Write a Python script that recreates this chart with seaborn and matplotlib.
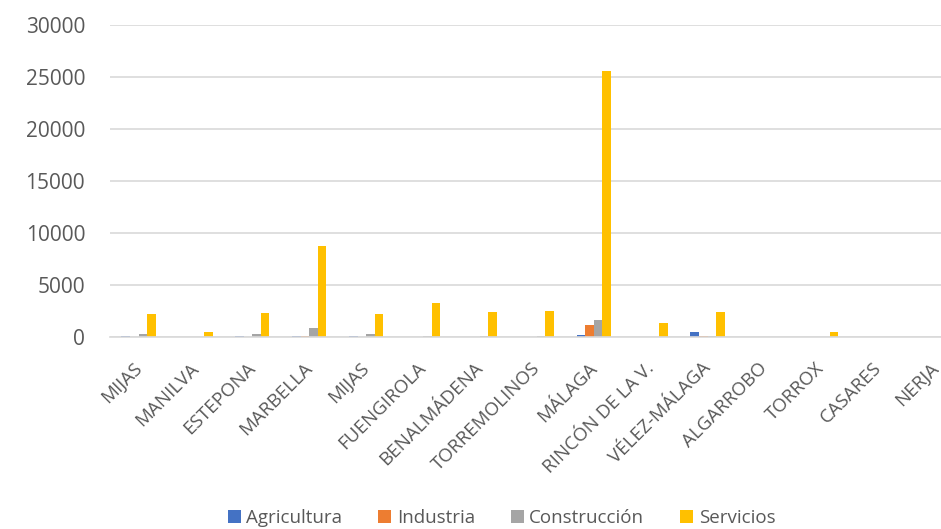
import pandas as pd
import matplotlib.pyplot as plt
import matplotlib.transforms as mtransforms
import seaborn as sns

# municipios (MIJAS appears twice in the original chart)
municipios = ["MIJAS", "MANILVA", "ESTEPONA", "MARBELLA", "MIJAS", "FUENGIROLA",
              "BENALMÁDENA", "TORREMOLINOS", "MÁLAGA", "RINCÓN DE LA V.",
              "VÉLEZ-MÁLAGA", "ALGARROBO", "TORROX", "CASARES", "NERJA"]
sectores = ["Agricultura", "Industria", "Construcción", "Servicios"]

agricultura = [50, 0, 50, 60, 50, 30, 30, 20, 150, 0, 450, 0, 0, 0, 0]
industria = [0, 0, 0, 100, 0, 0, 0, 0, 1150, 0, 100, 0, 0, 0, 0]
construccion = [250, 0, 250, 850, 250, 100, 120, 50, 1630, 0, 100, 0, 0, 0, 0]
servicios = [2180, 480, 2340, 8750, 2200, 3300, 2430, 2530, 25600, 1380, 2370, 0, 480, 0, 0]

colores = ["#4472C4", "#ED7D31", "#A5A5A5", "#FFC000"]

rows = []
for serie, vals in zip(sectores, [agricultura, industria, construccion, servicios]):
    for i, v in enumerate(vals):
        rows.append({"pos": i, "sector": serie, "valor": v})
df = pd.DataFrame(rows)

sns.set_style("white")
plt.rcParams['font.family'] = ['Open Sans', 'DejaVu Sans']

fig = plt.figure(figsize=(9.41, 5.29), dpi=100)
ax = fig.add_axes([0.117, 0.363, 0.907, 0.59])

sns.barplot(data=df, x="pos", y="valor", hue="sector", hue_order=sectores,
            palette=colores, saturation=1, width=0.6, linewidth=0, ax=ax)

ax.set_ylim(0, 30000)
ax.set_yticks(range(0, 30001, 5000))
ax.set_xlim(-0.5, len(municipios) - 0.5)
ax.grid(axis="y", color="#d9d9d9", linewidth=1.2)
ax.set_axisbelow(True)
for s in ["top", "right", "left"]:
    ax.spines[s].set_visible(False)
ax.spines["bottom"].set_color("#d9d9d9")
ax.spines["bottom"].set_linewidth(1.2)

ax.set_xticks(range(len(municipios)))
ax.set_xticklabels(municipios, rotation=45, ha="right", rotation_mode="anchor")
ax.tick_params(axis="both", length=0, colors="#595959")
ax.tick_params(axis="y", pad=18, labelsize=15)
ax.tick_params(axis="x", pad=16, labelsize=13.5)
ax.set_xlabel("")
ax.set_ylabel("")

# nudge rotated labels a little to the left, like the original
shift = mtransforms.ScaledTranslation(-6 / 100, 0, fig.dpi_scale_trans)
for lab in ax.get_xticklabels():
    lab.set_transform(lab.get_transform() + shift)

handles, labels = ax.get_legend_handles_labels()
ax.legend_.remove()
fig.legend(handles, labels, loc="center", bbox_to_anchor=(0.533, 0.02), ncol=4,
           frameon=False, handlelength=0.7, handleheight=0.7, handletextpad=0.3,
           columnspacing=1.9, fontsize=13.5, labelcolor="#595959")

fig.savefig("out.png", dpi=100)
